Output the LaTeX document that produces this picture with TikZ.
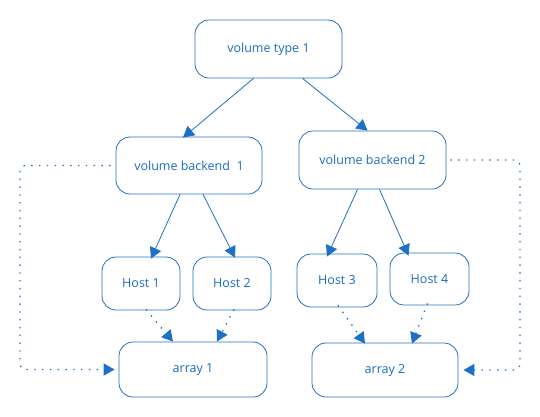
\documentclass[tikz,border=0pt]{standalone}
\usepackage{fontspec}
\setmainfont{Open Sans}
\usepackage{xcolor}
\usetikzlibrary{arrows.meta,positioning}
\definecolor{lineblue}{RGB}{30,112,196}
\definecolor{textblue}{RGB}{26,108,192}

\begin{document}
\begin{tikzpicture}[
  x=1pt, y=-1pt,
  box/.style={draw=lineblue, rounded corners=14pt, line width=0.8pt,
              align=center, font=\fontsize{12.5}{14}\selectfont, text=textblue,
              inner sep=0pt},
  arr/.style={-{Triangle[length=11pt,width=12pt]}, lineblue, line width=0.8pt},
  dotarr/.style={arr, dash pattern=on 1.4pt off 6.4pt,
                 line width=1.3pt, rounded corners=5pt}
]
\useasboundingbox (0,0) rectangle (540,416);

% ===== top =====
\node[box, minimum width=147pt, minimum height=58pt] (vt1) at (268.5,49) {volume type 1};

% ===== backends =====
\node[box, minimum width=146pt, minimum height=57pt] (vb1) at (189,165.5) {volume backend\ \ 1};
\node[box, minimum width=147pt, minimum height=58pt] (vb2) at (372.5,160) {volume backend 2};

% ===== hosts =====
\node[box, minimum width=78pt, minimum height=53pt] (h1) at (141,283.5) {Host 1};
\node[box, minimum width=78pt, minimum height=53pt] (h2) at (232,283.5) {Host 2};
\node[box, minimum width=80pt, minimum height=53pt] (h3) at (337,280.5) {Host 3};
\node[box, minimum width=79pt, minimum height=52pt] (h4) at (429.5,279) {Host 4};

% ===== arrays =====
\node[box, minimum width=148pt, minimum height=55pt] (a1) at (193,369.5) {array 1};
\node[box, minimum width=146pt, minimum height=54pt] (a2) at (385,370) {array 2};

\coordinate (lbend) at (20,265);
\coordinate (rbend) at (520,265);

% ===== arrows =====
\draw[arr] ([xshift=-15pt]vt1.south) -- ([xshift=-6pt,yshift=-1pt]vb1.north);
\draw[arr] ([xshift=34pt]vt1.south) -- ([xshift=-5pt]vb2.north);
\draw[arr] ([xshift=-9pt]vb1.south) -- ([xshift=10pt,yshift=-2pt]h1.north);
\draw[arr] ([xshift=14pt]vb1.south) -- ([xshift=3pt,yshift=-1pt]h2.north);
\draw[arr] ([xshift=-15pt]vb2.south) -- ([xshift=-10pt,yshift=-3pt]h3.north);
\draw[arr] ([xshift=7pt]vb2.south) -- ([xshift=-21pt,yshift=-3pt]h4.north);

\draw[dotarr] ([xshift=5pt,yshift=1pt]h1.south) -- ([xshift=-20pt]a1.north);
\draw[dotarr] ([xshift=2pt,yshift=1pt]h2.south) -- ([xshift=24pt]a1.north);
\draw[dotarr] ([xshift=1pt,yshift=2pt]h3.south) -- ([xshift=-20pt,yshift=-1pt]a2.north);
\draw[dotarr] ([xshift=-2pt,yshift=2pt]h4.south) -- ([xshift=27pt,yshift=-1pt]a2.north);

\draw[dotarr] ([xshift=-5pt]vb1.west) -| (lbend) |- ([xshift=-4pt]a1.west);
\draw[dotarr] ([xshift=4pt]vb2.east) -| (rbend) |- ([xshift=5pt]a2.east);
\end{tikzpicture}
\end{document}
